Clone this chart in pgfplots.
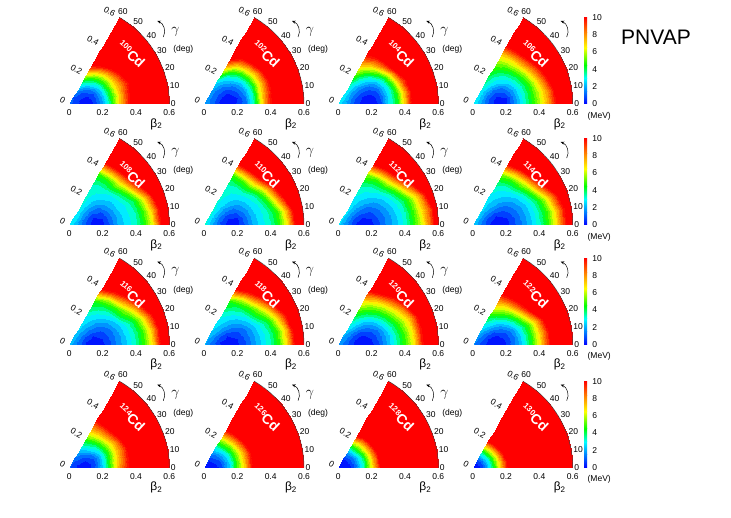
\documentclass[border=0pt]{standalone}
\usepackage{pgfplots}
\pgfplotsset{compat=1.18}
\usepackage{pgfplotstable}
\usetikzlibrary{arrows.meta}
\usepackage{fontspec}
\setmainfont{Liberation Sans}

\pgfplotstableread{
b g e100 e102 e104 e106 e108 e110 e112 e114 e116 e118 e120 e122 e124 e126 e128 e130
0.00 0 1.2 2.0 2.8 3.0 3.0 3.2 2.6 2.4 2.2 2.0 1.8 1.5 1.0 0.4 0.3 0.0
0.05 0 0.5 1.2 1.8 2.0 2.0 2.1 1.5 1.4 1.3 1.2 1.0 0.8 0.3 0.0 0.0 0.6
0.10 0 0.0 0.4 0.8 0.8 1.0 1.0 0.5 0.5 0.4 0.4 0.3 0.2 0.0 0.7 1.2 2.8
0.15 0 0.6 0.1 0.2 0.1 0.1 0.2 0.1 0.1 0.1 0.1 0.0 0.0 0.8 2.4 3.5 6.0
0.20 0 2.0 0.6 0.1 0.4 0.4 0.3 0.4 0.3 0.4 0.4 0.4 0.5 2.6 5.0 6.8 9.7
0.25 0 4.2 1.5 0.7 1.6 1.2 1.2 1.0 0.9 1.0 1.0 1.1 1.4 5.2 7.8 10.0 12
0.30 0 7.0 3.6 2.6 3.0 2.2 2.2 1.7 1.6 1.8 1.8 2.2 2.7 7.9 10.8 12 12
0.35 0 9.6 7.0 4.4 4.3 2.8 2.8 2.4 2.4 2.6 2.6 3.5 4.4 10.0 12 12 12
0.40 0 12 10.0 7.4 5.8 3.4 3.5 3.2 3.3 3.5 3.5 4.9 6.6 12 12 12 12
0.45 0 12 12 10.8 7.8 4.6 4.7 4.6 4.8 4.9 4.9 6.5 9.4 12 12 12 12
0.50 0 12 12 12 10.1 6.6 6.8 6.3 6.8 7.0 7.1 9.5 12 12 12 12 12
0.55 0 12 12 12 12 10.0 10.3 8.6 9.4 10.3 10.6 12 12 12 12 12 12
0.60 0 12 12 12 12 12 12 11.5 12 12 12 12 12 12 12 12 12
0.00 10 1.2 2.0 2.8 3.0 3.0 3.2 2.6 2.4 2.2 2.0 1.8 1.5 1.0 0.4 0.3 0.0
0.05 10 0.55 1.2 1.9 2.0 2.0 2.1 1.6 1.5 1.4 1.3 1.1 0.9 0.4 0.1 0.05 0.6
0.10 10 0.1 0.4 0.9 0.9 1.0 1.0 0.6 0.6 0.5 0.5 0.4 0.3 0.1 0.8 1.2 2.8
0.15 10 0.7 0.0 0.3 0.2 0.2 0.3 0.2 0.2 0.2 0.2 0.1 0.1 0.8 2.5 3.5 6.1
0.20 10 2.1 0.5 0.2 0.5 0.5 0.4 0.5 0.4 0.5 0.5 0.5 0.6 2.5 5.0 6.8 9.8
0.25 10 4.3 1.5 0.8 1.7 1.3 1.3 1.1 1.0 1.1 1.1 1.2 1.5 5.0 7.7 10.0 12
0.30 10 7.0 3.6 2.7 3.1 2.3 2.3 1.8 1.7 1.9 1.9 2.3 2.8 7.6 10.6 12 12
0.35 10 9.4 6.9 4.5 4.4 2.9 2.9 2.5 2.5 2.7 2.7 3.6 4.5 9.7 12 12 12
0.40 10 11.6 9.8 7.5 6.0 3.5 3.7 3.3 3.4 3.6 3.6 5.0 6.7 12 12 12 12
0.45 10 12 12 10.6 8.0 4.9 5.0 4.7 4.9 5.0 5.1 6.7 9.5 12 12 12 12
0.50 10 12 12 12 10.4 7.0 7.4 6.5 7.0 7.2 7.4 9.6 12 12 12 12 12
0.55 10 12 12 12 12 10.4 10.8 8.8 9.6 10.4 10.8 12 12 12 12 12 12
0.60 10 12 12 12 12 12 12 11.6 12 12 12 12 12 12 12 12 12
0.00 20 1.2 2.0 2.8 3.0 3.0 3.2 2.6 2.4 2.2 2.0 1.8 1.5 1.0 0.4 0.3 0.0
0.05 20 0.6 1.3 2.0 2.1 2.1 2.2 1.7 1.6 1.5 1.4 1.2 1.0 0.5 0.2 0.1 0.65
0.10 20 0.3 0.6 1.1 1.1 1.2 1.3 0.9 0.8 0.8 0.8 0.6 0.5 0.4 0.9 1.3 2.9
0.15 20 0.9 0.3 0.6 0.6 0.6 0.7 0.6 0.5 0.5 0.5 0.4 0.4 1.0 2.6 3.6 6.3
0.20 20 2.3 0.8 0.6 0.9 0.8 0.8 0.8 0.7 0.8 0.8 0.8 0.9 2.5 5.0 6.9 10.1
0.25 20 4.5 1.8 1.2 2.0 1.6 1.6 1.3 1.2 1.3 1.3 1.5 1.8 4.8 7.6 10.2 12
0.30 20 7.1 3.8 2.7 3.3 2.5 2.5 2.0 1.9 2.1 2.1 2.6 3.2 7.2 10.5 12 12
0.35 20 9.0 6.8 5.2 4.7 3.0 3.1 2.7 2.7 2.9 3.0 4.0 4.9 9.4 12 12 12
0.40 20 11.0 9.6 8.6 6.6 3.8 4.4 3.6 3.7 4.0 4.1 5.5 7.2 12 12 12 12
0.45 20 12 12 11.2 9.0 5.8 6.9 5.1 5.6 5.9 6.1 7.3 10.2 12 12 12 12
0.50 20 12 12 12 11.6 8.6 10.0 7.3 8.3 8.6 8.9 10.0 12 12 12 12 12
0.55 20 12 12 12 12 12 12 9.8 10.8 11.2 11.5 12 12 12 12 12 12
0.60 20 12 12 12 12 12 12 12 12 12 12 12 12 12 12 12 12
0.00 30 1.2 2.0 2.8 3.0 3.0 3.2 2.6 2.4 2.2 2.0 1.8 1.5 1.0 0.4 0.3 0.0
0.05 30 0.7 1.4 2.2 2.3 2.3 2.4 1.9 1.8 1.7 1.6 1.4 1.2 0.6 0.3 0.15 0.7
0.10 30 0.6 0.9 1.5 1.5 1.6 1.7 1.3 1.2 1.2 1.2 1.0 0.9 0.7 1.1 1.4 3.0
0.15 30 1.3 0.8 1.2 1.2 1.2 1.3 1.1 1.0 1.1 1.1 1.0 1.0 1.5 2.8 3.8 6.5
0.20 30 2.8 1.3 1.3 1.6 1.4 1.5 1.3 1.2 1.3 1.4 1.4 1.6 3.0 5.3 7.1 10.5
0.25 30 5.0 2.4 2.1 2.6 2.1 2.1 1.8 1.7 1.8 1.9 2.2 2.7 5.1 8.0 10.5 12
0.30 30 7.6 4.4 3.7 3.8 2.7 2.8 2.4 2.3 2.6 2.7 3.4 4.3 7.5 11.0 12 12
0.35 30 9.8 7.2 6.5 5.4 3.6 3.6 3.2 3.2 4.2 4.2 4.9 6.6 10.0 12 12 12
0.40 30 12 10.2 10.3 7.6 5.3 5.5 4.7 5.0 5.8 5.9 6.7 10.0 12 12 12 12
0.45 30 12 12 12 10.2 8.2 8.4 7.2 8.0 8.0 8.2 8.9 12 12 12 12 12
0.50 30 12 12 12 12 11.2 11.5 10.0 10.9 10.8 11.0 11.6 12 12 12 12 12
0.55 30 12 12 12 12 12 12 12 12 12 12 12 12 12 12 12 12
0.60 30 12 12 12 12 12 12 12 12 12 12 12 12 12 12 12 12
0.00 40 1.2 2.0 2.8 3.0 3.0 3.2 2.6 2.4 2.2 2.0 1.8 1.5 1.0 0.4 0.3 0.0
0.05 40 0.8 1.5 2.4 2.5 2.5 2.6 2.1 2.0 1.9 1.8 1.6 1.4 0.8 0.4 0.2 0.75
0.10 40 0.9 1.2 2.0 2.1 2.1 2.2 1.8 1.7 1.7 1.7 1.5 1.4 1.1 1.3 1.5 3.1
0.15 40 1.9 1.3 1.9 2.0 1.9 2.0 1.8 1.7 1.7 1.8 1.7 1.7 2.1 3.0 4.0 6.7
0.20 40 3.5 2.0 2.3 2.5 2.1 2.2 2.0 1.9 2.0 2.1 2.2 2.5 3.7 5.6 7.4 10.9
0.25 40 5.8 3.3 3.4 3.3 2.6 2.6 2.4 2.3 2.5 2.6 3.1 3.8 5.8 8.5 10.9 12
0.30 40 8.5 5.4 5.5 4.5 3.1 3.2 3.0 2.9 3.3 3.4 4.4 5.6 8.4 11.6 12 12
0.35 40 11.0 8.3 8.5 6.3 4.6 4.8 4.2 4.2 4.9 5.0 6.1 8.6 11.0 12 12 12
0.40 40 12 11.5 11.5 8.9 7.0 7.6 6.6 6.6 7.4 7.5 8.2 11.0 12 12 12 12
0.45 40 12 12 12 11.4 10.0 10.8 9.7 9.6 10.3 10.4 10.7 12 12 12 12 12
0.50 40 12 12 12 12 12 12 12 12 12 12 12 12 12 12 12 12
0.55 40 12 12 12 12 12 12 12 12 12 12 12 12 12 12 12 12
0.60 40 12 12 12 12 12 12 12 12 12 12 12 12 12 12 12 12
0.00 50 1.2 2.0 2.8 3.0 3.0 3.2 2.6 2.4 2.2 2.0 1.8 1.5 1.0 0.4 0.3 0.0
0.05 50 0.9 1.6 2.6 2.7 2.8 2.9 2.3 2.3 2.1 2.0 1.8 1.6 1.0 0.5 0.25 0.8
0.10 50 1.3 1.5 2.5 2.6 2.6 2.7 2.3 2.2 2.1 2.2 2.0 1.9 1.5 1.5 1.6 3.2
0.15 50 2.7 1.9 2.8 2.9 2.6 2.7 2.4 2.3 2.3 2.4 2.5 2.5 2.7 3.3 4.2 6.9
0.20 50 4.7 2.9 3.6 3.3 2.7 2.8 2.6 2.5 2.6 2.7 3.2 3.5 4.4 5.9 7.8 11.3
0.25 50 7.2 4.6 5.0 4.0 3.0 3.0 2.9 2.8 3.1 3.2 4.2 5.0 6.5 9.0 11.3 12
0.30 50 10.0 7.0 7.0 5.2 3.4 3.5 3.4 3.3 4.0 4.1 5.6 7.0 8.8 12 12 12
0.35 50 12 9.8 9.6 7.0 4.6 5.0 4.8 4.8 5.8 5.9 7.4 9.4 11.3 12 12 12
0.40 50 12 12 12 9.6 7.4 8.3 7.6 7.6 9.0 9.1 10.0 12 12 12 12 12
0.45 50 12 12 12 12 10.8 11.8 10.8 10.8 12 12 12 12 12 12 12 12
0.50 50 12 12 12 12 12 12 12 12 12 12 12 12 12 12 12 12
0.55 50 12 12 12 12 12 12 12 12 12 12 12 12 12 12 12 12
0.60 50 12 12 12 12 12 12 12 12 12 12 12 12 12 12 12 12
0.00 60 1.2 2.0 2.8 3.0 3.0 3.2 2.6 2.4 2.2 2.0 1.8 1.5 1.0 0.4 0.3 0.0
0.05 60 1.0 1.8 2.7 3.0 3.0 3.1 2.6 2.5 2.3 2.2 2.0 1.8 1.2 0.6 0.3 0.85
0.10 60 1.8 2.0 3.0 3.0 3.0 3.1 2.7 2.6 2.5 2.5 2.5 2.4 1.9 1.7 1.7 3.3
0.15 60 3.8 2.8 3.8 3.6 3.1 3.1 2.8 2.7 2.7 2.8 3.2 3.3 3.2 3.5 4.4 7.2
0.20 60 6.2 4.6 5.0 4.2 3.2 3.2 3.0 2.9 3.0 3.1 4.1 4.5 4.9 6.1 8.4 11.7
0.25 60 9.0 7.0 6.6 4.8 3.3 3.3 3.3 3.2 3.8 3.8 5.3 6.1 6.9 9.3 12 12
0.30 60 12 9.5 8.4 5.8 3.6 3.6 4.0 3.9 4.6 4.7 6.9 8.0 9.0 12 12 12
0.35 60 12 12 10.4 7.5 4.8 5.2 5.6 5.6 7.7 7.8 8.9 10.0 11.2 12 12 12
0.40 60 12 12 12 10.0 8.0 8.6 8.8 8.8 11.0 11.0 11.4 12 12 12 12 12
0.45 60 12 12 12 12 11.5 12 12 12 12 12 12 12 12 12 12 12
0.50 60 12 12 12 12 12 12 12 12 12 12 12 12 12 12 12 12
0.55 60 12 12 12 12 12 12 12 12 12 12 12 12 12 12 12 12
0.60 60 12 12 12 12 12 12 12 12 12 12 12 12 12 12 12 12
}\Edata

\pgfplotsset{
  colormap={bands}{
    rgb(0cm)=(0,0.08,1) rgb(0.5cm)=(0,0.25,1) rgb(1cm)=(0,0.42,1) rgb(1.5cm)=(0,0.58,1)
    rgb(2cm)=(0,0.75,1) rgb(2.5cm)=(0,0.92,1) rgb(3cm)=(0,1,0.83) rgb(3.5cm)=(0,1,0.5)
    rgb(4cm)=(0,1,0.17) rgb(4.5cm)=(0.13,1,0) rgb(5cm)=(0.38,1,0) rgb(5.5cm)=(0.63,1,0)
    rgb(6cm)=(0.88,1,0) rgb(6.5cm)=(1,0.93,0) rgb(7cm)=(1,0.79,0) rgb(7.5cm)=(1,0.65,0)
    rgb(8cm)=(1,0.51,0) rgb(8.5cm)=(1,0.37,0) rgb(9cm)=(1,0.22,0) rgb(9.5cm)=(1,0.07,0)
    rgb(10cm)=(1,0,0) rgb(10.5cm)=(1,0,0) rgb(11cm)=(1,0,0) rgb(11.5cm)=(1,0,0) rgb(12cm)=(1,0,0)},
  panel/.style={view={0}{90}, hide axis, scale only axis, width=100pt, height=86.6025pt,
    xmin=0, xmax=0.6, ymin=0, ymax=0.519615, zmin=-1, zmax=1, clip=false,
    anchor=south west, colormap name=bands, colormap access=piecewise constant,
    point meta min=0, point meta max=12}
}

\definecolor{cb0}{rgb}{0,0,1}
\definecolor{cb1}{rgb}{0,0.5,1}
\definecolor{cb2}{rgb}{0,1,1}
\definecolor{cb3}{rgb}{0,1,0}
\definecolor{cb4}{rgb}{1,1,0}
\definecolor{cb5}{rgb}{1,0.5,0}
\definecolor{cb6}{rgb}{1,0,0}

\newcommand{\tfs}{\fontsize{8.5}{10}\selectfont}

\newcommand{\decor}{%
  \draw[line width=0.45pt, black!75] (100pt,0pt) arc[start angle=0, end angle=60, radius=100pt];
  \node[font=\tfs, inner sep=0pt] at (0:104pt) {0};
  \foreach \a in {10,20,...,60}{\node[font=\tfs, inner sep=0pt] at (\a:107pt) {\a};}
  \node[font=\tfs] at (0pt,-9pt) {0};
  \node[font=\tfs] at (33.33pt,-9pt) {0.2};
  \node[font=\tfs] at (66.67pt,-9pt) {0.4};
  \node[font=\tfs] at (100pt,-9pt) {0.6};
  \node[font=\tfs, rotate=-30, anchor=east, inner sep=0pt] at (-4.33pt,2.5pt) {0};
  \node[font=\tfs, rotate=-30, anchor=east, inner sep=0pt] at (12.33pt,31.37pt) {0.2};
  \node[font=\tfs, rotate=-30, anchor=east, inner sep=0pt] at (29.0pt,60.24pt) {0.4};
  \node[font=\tfs, rotate=-30, anchor=east, inner sep=0pt] at (45.67pt,89.1pt) {0.6};
  \node[font=\fontsize{12}{12}\selectfont] at (87pt,-20pt) {β\textsubscript{2}};
  \draw[-{Stealth[length=3.5pt,width=3pt]}, line width=0.5pt] (94pt,67pt) to[bend right=50] (88pt,83pt);
}
\newcommand{\gammalabel}{%
  \node[font=\fontsize{15}{15}\selectfont] at (106pt,72.5pt) {$\gamma$};
  \node[font=\tfs] at (114pt,54.7pt) {(deg)};
}
\newcommand{\cbar}{%
  \shade[bottom color=cb0, top color=cb1] (111.5pt,0pt) rectangle (114.5pt,12.99pt);
  \shade[bottom color=cb1, top color=cb2] (111.5pt,12.99pt) rectangle (114.5pt,25.98pt);
  \shade[bottom color=cb2, top color=cb3] (111.5pt,25.98pt) rectangle (114.5pt,38.97pt);
  \shade[bottom color=cb3, top color=cb4] (111.5pt,38.97pt) rectangle (114.5pt,56.29pt);
  \shade[bottom color=cb4, top color=cb5] (111.5pt,56.29pt) rectangle (114.5pt,71.88pt);
  \shade[bottom color=cb5, top color=cb6] (111.5pt,71.88pt) rectangle (114.5pt,86.6pt);
  \foreach \v/\y in {0/0,2/17.32,4/34.64,6/51.96,8/69.28,10/86.6}
    {\node[font=\tfs, anchor=west, inner sep=0pt] at (119.5pt,\y pt) {\v};}
  \node[font=\tfs] at (126.5pt,-12pt) {(MeV)};
}

\newcommand{\panel}[4]{%
  \begin{axis}[panel, at={(#1pt,#2pt)}]
    \addplot3[surf, shader=interp, mesh/rows=7, mesh/cols=13, point meta=\thisrow{e#3}]
      table[x expr={\thisrow{b}*cos(\thisrow{g})}, y expr={\thisrow{b}*sin(\thisrow{g})}, z expr=0] {\Edata};
  \end{axis}
  \begin{scope}[shift={(#1pt,#2pt)}]
    \decor
    \node[text=white, font=\fontsize{14}{14}\selectfont\bfseries, rotate=-43] at (62pt,50pt)
      {\raisebox{5pt}{\fontsize{8}{8}\selectfont #3}Cd};
    \ifnum#4=0\relax \gammalabel \else \cbar \fi
  \end{scope}
}

\begin{document}
\begin{tikzpicture}
\useasboundingbox (0,0) rectangle (731pt,517pt);
\panel{69.3}{413}{100}{0}
\panel{204}{413}{102}{0}
\panel{338.3}{413}{104}{0}
\panel{472.7}{413}{106}{1}
\panel{69.3}{292}{108}{0}
\panel{204}{292}{110}{0}
\panel{338.3}{292}{112}{0}
\panel{472.7}{292}{114}{1}
\panel{69.3}{172.3}{116}{0}
\panel{204}{172.3}{118}{0}
\panel{338.3}{172.3}{120}{0}
\panel{472.7}{172.3}{122}{1}
\panel{69.3}{49.3}{124}{0}
\panel{204}{49.3}{126}{0}
\panel{338.3}{49.3}{128}{0}
\panel{472.7}{49.3}{130}{1}
\node[font=\fontsize{21}{21}\selectfont] at (656pt,480pt) {PNVAP};
\end{tikzpicture}
\end{document}
